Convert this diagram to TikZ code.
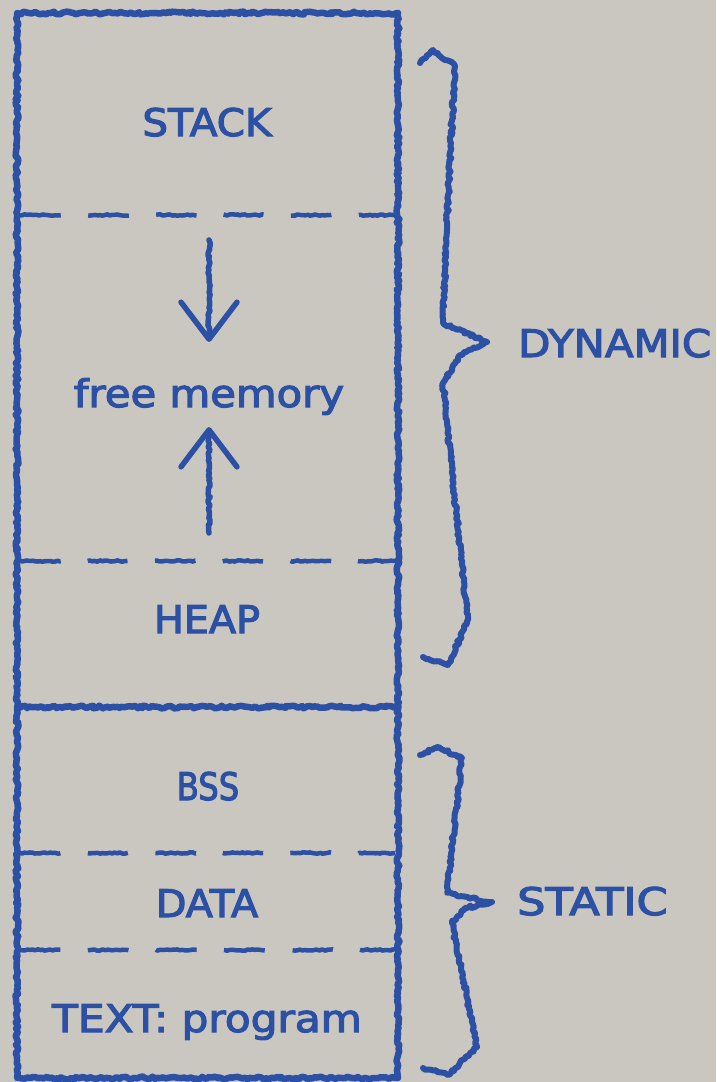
\documentclass[tikz,border=0pt]{standalone}
\usepackage{fontspec}
\setmainfont{DejaVu Sans}[BoldFont={DejaVu Sans},BoldFeatures={FakeBold=3}]
\usetikzlibrary{decorations.pathmorphing,arrows.meta,positioning}
\definecolor{ink}{RGB}{44,80,164}
\definecolor{paper}{RGB}{202,199,192}
\pgfmathsetseed{7}

\begin{document}
\begin{tikzpicture}[x=1pt,y=-1pt,
    rough/.style={draw=ink,line width=6.5pt,line cap=round,line join=round,decorate,
      decoration={random steps,segment length=2.5pt,amplitude=1.4pt}},
    split/.style={rough,line width=4.5pt,line cap=butt,dash pattern=on 41.5pt off 28pt,
      decoration={random steps,segment length=2.5pt,amplitude=0.7pt}},
    growarrow/.style={rough,line width=5.5pt,
      decoration={random steps,segment length=2.5pt,amplitude=1.2pt,post length=6pt},
      -{Straight Barb[length=37pt,width=56pt,round]}},
    curly/.style={rough,line width=6pt},
    lbl/.style={text=ink,font=\fontsize{38}{45}\selectfont\bfseries,inner sep=0pt,anchor=base,xscale=1.1}]
    \useasboundingbox (0,0) rectangle (716,1082);
    \fill[paper] (0,0) rectangle (716,1082);
    \node[lbl,xscale=0.97] (stack) at (207,136) {STACK};
    \node[lbl] (free) at (209,407) {free memory};
    \node[lbl,xscale=0.95] (heap) at (207,633) {HEAP};
    \node[lbl,xscale=0.77] (bss) at (208,800) {BSS};
    \node[lbl,xscale=0.95] (data) at (207,917) {DATA};
    \node[lbl,xscale=1.01] (text) at (207,1032) {TEXT: program};
    \coordinate (dtip) at (487,342);
    \coordinate (stip) at (492,902);
    \node[lbl,anchor=base west,xscale=1.0] (dyn) at (518,357) {DYNAMIC};
    \node[lbl,anchor=base west,xscale=1.065] (stat) at (517,915) {STATIC};
    \coordinate (s) at (209,240);
    \coordinate (h) at (209,533);
    \draw[rough] (17,13) rectangle (398,1078);
    \draw[rough] (17,707) -- (398,707);
    \draw[split] (20,215) -- (395,215);
    \draw[split] (20,561) -- (395,561);
    \draw[split] (20,853) -- (395,853);
    \draw[split] (20,950) -- (395,950);
    \draw[growarrow] (s) -- ([yshift=36pt]free.north);
    \draw[growarrow] (h) -- ([yshift=-12pt]free.south);
    \draw[curly] (420,63) -- (433,50) -- (455,66) -- (448,200) -- (443,323) -- (dtip)
      -- (460,355) -- (443,383) -- (455,500) -- (468,620) -- (448,665) -- (423,657);
    \draw[curly] (420,755) -- (437,747) -- (462,758) -- (447,893) -- (stip)
      -- (465,908) -- (452,923) -- (477,1047) -- (448,1075) -- (423,1068);
  \end{tikzpicture}
\end{document}
